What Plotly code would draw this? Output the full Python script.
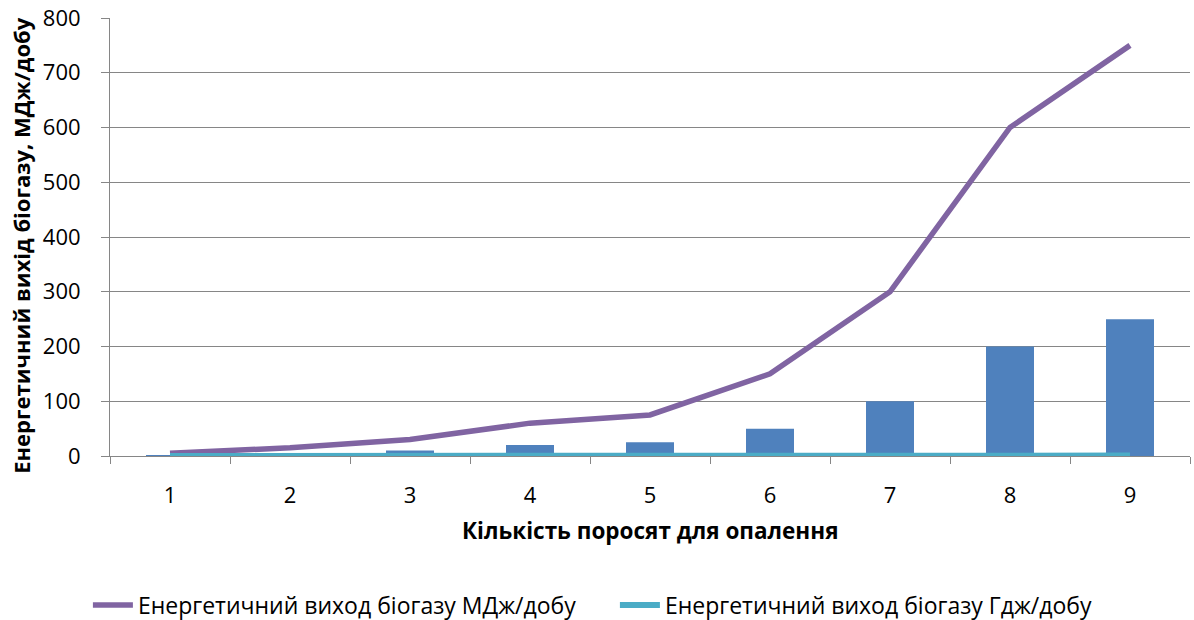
import plotly.graph_objects as go

# Number of piglets being heated (category axis)
categories = ["1", "2", "3", "4", "5", "6", "7", "8", "9"]

# Energy output of biogas, MJ/day (line)
energy_mj = [5, 15, 30, 60, 75, 150, 300, 600, 750]
# Energy output of biogas, GJ/day (line, same axis, sits near zero)
energy_gj = [0.005, 0.015, 0.03, 0.06, 0.075, 0.15, 0.3, 0.6, 0.75]
# Column series
bar_values = [1, 5, 10, 20, 25, 50, 100, 200, 250]

y_ticks = [0, 100, 200, 300, 400, 500, 600, 700, 800]

FONT = "Open Sans, Noto Sans, DejaVu Sans, sans-serif"
GRID = "#868686"

fig = go.Figure()

fig.add_trace(go.Bar(
    x=categories, y=bar_values,
    marker=dict(color="#4F81BD", line=dict(width=0)),
    showlegend=False, hoverinfo="skip",
))
fig.add_trace(go.Scatter(
    x=categories, y=energy_mj, mode="lines",
    name="Енергетичний виход біогазу МДж/добу",
    line=dict(color="#8064A2", width=5.5),
))
fig.add_trace(go.Scatter(
    x=categories, y=energy_gj, mode="lines",
    name="Енергетичний виход біогазу Гдж/добу",
    line=dict(color="#4BACC6", width=6),
))

fig.update_layout(
    width=1194, height=620,
    margin=dict(l=110, r=4, t=18, b=164, autoexpand=False),
    paper_bgcolor="white", plot_bgcolor="white",
    font=dict(family=FONT, size=22, color="#000000"),
    bargap=0.6,
    showlegend=True,
    legend=dict(
        orientation="h",
        xref="container", yref="container",
        x=0.515, xanchor="center",
        y=0.024, yanchor="middle",
        font=dict(family=FONT, size=23, color="#000000"),
        itemwidth=40,
        entrywidth=472, entrywidthmode="pixels",
        bgcolor="rgba(0,0,0,0)",
    ),
    xaxis=dict(
        type="category",
        tickson="boundaries",
        ticks="outside", ticklen=7, tickcolor=GRID, tickwidth=1,
        showline=True, linecolor=GRID, linewidth=1,
        showgrid=False,
        automargin=False,
        ticklabelstandoff=20,
        tickfont=dict(family=FONT, size=22),
    ),
    yaxis=dict(
        range=[0, 800],
        tickvals=y_ticks,
        ticks="outside", ticklen=8, tickcolor=GRID, tickwidth=1,
        showline=True, linecolor=GRID, linewidth=1,
        showgrid=True, gridcolor=GRID, gridwidth=1,
        zeroline=False,
        automargin=False,
        ticklabelstandoff=16,
        tickfont=dict(family=FONT, size=22),
    ),
    annotations=[
        dict(
            text="<b>Кількість поросят для опалення</b>",
            xref="paper", yref="paper", x=0.5, y=-0.169,
            xanchor="center", yanchor="middle", showarrow=False,
            font=dict(family=FONT, size=22.5),
        ),
        dict(
            text="<b>Енергетичний вихід біогазу, МДж/добу</b>",
            xref="paper", yref="paper", x=-0.0824, y=0.48,
            xanchor="center", yanchor="middle", showarrow=False,
            textangle=-90,
            font=dict(family=FONT, size=22),
        ),
    ],
)

fig.write_html("out.html")
